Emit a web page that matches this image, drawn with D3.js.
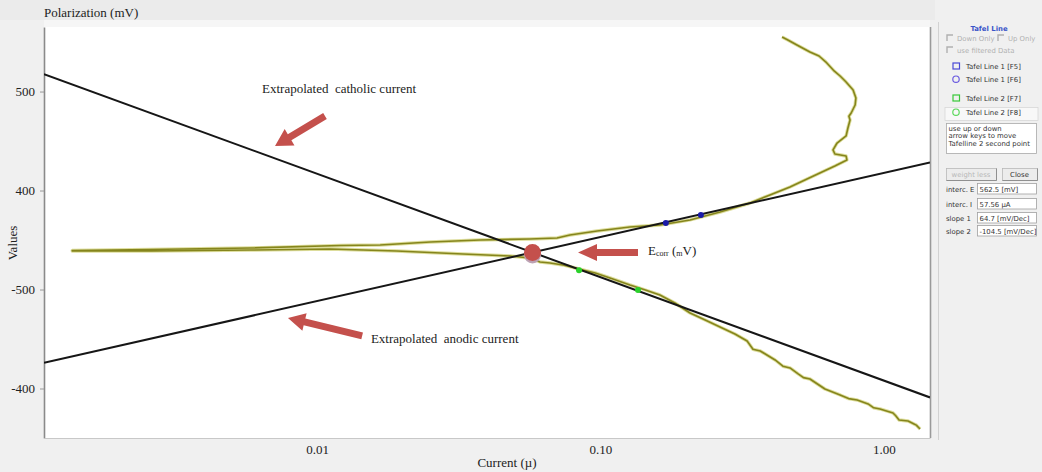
<!DOCTYPE html>
<html>
<head>
<meta charset="utf-8">
<script src="https://cdn.jsdelivr.net/npm/d3@7"></script>
<style>
  html, body { margin: 0; padding: 0; background: #f0f0f0; }
  svg { display: block; }
</style>
</head>
<body>
<svg id="chart" width="1042" height="472"></svg>
<script>
// ---- Polarization scan (current in mA, potential in mV) ----
// Cathodic branch, from the cathodic end of the scan towards the low-current tip
const cathodicCurrent = [1.34, 1.30, 1.276, 1.216, 1.13, 1.10, 1.076, 0.968, 0.92, 0.879, 0.804, 0.75, 0.700, 0.619,
  0.548, 0.52, 0.498, 0.466, 0.44, 0.413, 0.366, 0.345, 0.329, 0.298, 0.264, 0.234, 0.207,
  0.183, 0.162, 0.144, 0.127, 0.108, 0.0958, 0.0867, 0.0738, 0.0664, 0.0612,
  0.0564, 0.0480, 0.0327, 0.0191, 0.0111, 0.00581, 0.00258, 0.00137];
const cathodicPotential = [-740.9, -737.0, -735.8, -732.8, -731.8, -727.5, -724.7, -720.7, -719.5, -715.6, -711.6, -710.2, -706.5, -700.5,
  -690.4, -689.0, -685.3, -679.2, -677.5, -671.2, -662.1, -660.4, -652.0, -644.9, -637.8, -630.8, -623.7,
  -613.6, -605.5, -600.5, -595.4, -588.3, -583.3, -580.3, -575.2, -573.2, -572.2,
  -568.1, -566.1, -564.1, -561.1, -559.0, -560.1, -561.1, -561.1];
// Anodic branch, from the low-current tip out to the anodic end
const anodicCurrent = [0.00137, 0.00258, 0.00581, 0.0121, 0.0167, 0.0251, 0.0376, 0.0564, 0.0703, 0.0780,
  0.0973, 0.127, 0.162, 0.207, 0.264, 0.337, 0.396, 0.466, 0.526, 0.594,
  0.671, 0.740, 0.735, 0.671, 0.661, 0.683, 0.735, 0.746, 0.759, 0.752, 0.766,
  0.791, 0.796, 0.778, 0.735, 0.700, 0.667, 0.624, 0.590, 0.548, 0.493,
  0.458, 0.437];
const anodicPotential = [-560.6, -559.5, -558.0, -555.5, -555.0, -552.0, -550.0, -548.9, -547.9, -544.9,
  -540.9, -536.8, -534.8, -529.7, -521.7, -512.6, -504.5, -496.4, -489.3, -482.3,
  -475.2, -469.1, -465.1, -463.1, -459.0, -452.0, -444.9, -436.8, -428.7, -425.0, -421.7,
  -413.6, -406.5, -398.4, -390.4, -384.3, -379.2, -370.2, -364.1, -360.1, -353.0,
  -347.9, -344.9];

// ---- Tafel fit ----
const ecorr = -562.5;        // mV
const icorr = 0.05756;       // mA  (57.56 µA)
const slopeAnodic = 64.7;    // mV/decade
const slopeCathodic = -104.5;

// Points picked on each Tafel line
const tafel1Current = [0.170, 0.226];
const tafel1Potential = [-532.8, -524.7];
const tafel2Current = [0.084, 0.1356];
const tafel2Potential = [-580.5, -600.5];

// ---- Axes ----
const xTicks = [0.01, 0.1, 1];
const xTickLabels = ["0.01", "0.10", "1.00"];
const yTicks = [-400, -500, -600, -700];
const yTickLabels = ["500", "400", "-500", "-400"];

// ---- Layout ----
const plot = { left: 44, right: 930, top: 27, bottom: 438 };
const serif = "'Liberation Serif', 'Times New Roman', serif";
const sans = "'DejaVu Sans', 'Liberation Sans', sans-serif";
const arrowRed = "#c4504c";

const svg = d3.select("#chart");

const x = d3.scaleLog().domain([0.001089, 1.453]).range([plot.left, plot.right]);
const y = d3.scaleLinear().domain([-750, -334.8]).range([plot.bottom, plot.top]);

// backgrounds
svg.append("rect").attr("width", 1042).attr("height", 472).attr("fill", "#f0f0f0");
svg.append("rect").attr("x", 0).attr("y", 0).attr("width", 935).attr("height", 20).attr("fill", "#ebebeb");
svg.append("rect").attr("x", plot.left).attr("y", 20).attr("width", plot.right - plot.left).attr("height", 7).attr("fill", "#f6f6f6");
svg.append("rect")
  .attr("x", plot.left).attr("y", plot.top)
  .attr("width", plot.right - plot.left).attr("height", plot.bottom - plot.top)
  .attr("fill", "#ffffff");

// title
svg.append("text").attr("x", 44).attr("y", 17)
  .attr("font-family", serif).attr("font-size", 13).attr("fill", "#222")
  .text("Polarization (mV)");

// y axis
const yAxis = svg.append("g")
  .attr("transform", `translate(${plot.left},0)`)
  .call(d3.axisLeft(y).tickValues(yTicks).tickFormat((d, i) => yTickLabels[i])
    .tickSize(4).tickSizeOuter(0).tickPadding(5));
yAxis.select(".domain").attr("stroke", "#8a8a8a").attr("stroke-width", 1.6);
yAxis.selectAll(".tick line").attr("stroke", "#999");
yAxis.selectAll(".tick text").attr("font-family", serif).attr("font-size", 13).attr("fill", "#222");

svg.append("text")
  .attr("transform", "translate(17,243) rotate(-90)")
  .attr("text-anchor", "middle")
  .attr("font-family", serif).attr("font-size", 13).attr("fill", "#222")
  .text("Values");

// x axis
const xAxis = svg.append("g")
  .attr("transform", `translate(0,${plot.bottom})`)
  .call(d3.axisBottom(x).tickValues(xTicks).tickFormat((d, i) => xTickLabels[i])
    .tickSize(0).tickPadding(7));
xAxis.select(".domain").attr("stroke", "#c8c8c8").attr("stroke-width", 1.2);
xAxis.selectAll(".tick text").attr("font-family", serif).attr("font-size", 13).attr("fill", "#222");

svg.append("text").attr("x", 507).attr("y", 467)
  .attr("text-anchor", "middle")
  .attr("font-family", serif).attr("font-size", 13).attr("fill", "#222")
  .text("Current (\u00b5)");

// plot frame on the right
svg.append("line")
  .attr("x1", plot.right + 0.5).attr("x2", plot.right + 0.5)
  .attr("y1", plot.top).attr("y2", plot.bottom)
  .attr("stroke", "#9a9a9a").attr("stroke-width", 1.6);

svg.append("clipPath").attr("id", "plotClip")
  .append("rect").attr("x", plot.left).attr("y", plot.top)
  .attr("width", plot.right - plot.left).attr("height", plot.bottom - plot.top);

const g = svg.append("g").attr("clip-path", "url(#plotClip)");

// polarization curve
const scan = cathodicCurrent.map((c, i) => [c, cathodicPotential[i]])
  .concat(anodicCurrent.map((c, i) => [c, anodicPotential[i]]));
const line = d3.line().x(d => x(d[0])).y(d => y(d[1]));

g.append("path").datum(scan).attr("d", line)
  .attr("fill", "none").attr("stroke", "#cfcf72").attr("stroke-width", 3.4)
  .attr("stroke-linejoin", "round").attr("opacity", 0.7);
g.append("path").datum(scan).attr("d", line)
  .attr("fill", "none").attr("stroke", "#85851c").attr("stroke-width", 1.6)
  .attr("stroke-linejoin", "round");

// Tafel lines across the full current range
const [iMin, iMax] = x.domain();
const tafelLine = (b) => [iMin, iMax].map(i => [i, ecorr + b * Math.log10(i / icorr)]);
[slopeCathodic, slopeAnodic].forEach(b => {
  g.append("path").datum(tafelLine(b)).attr("d", line)
    .attr("fill", "none").attr("stroke", "#161616").attr("stroke-width", 2);
});

// Tafel points
g.selectAll(".t1").data(tafel1Current).join("circle")
  .attr("cx", d => x(d)).attr("cy", (d, i) => y(tafel1Potential[i]))
  .attr("r", 3).attr("fill", "#1a1aa8");
g.selectAll(".t2").data(tafel2Current).join("circle")
  .attr("cx", d => x(d)).attr("cy", (d, i) => y(tafel2Potential[i]))
  .attr("r", 3).attr("fill", "#2bd12b");

// Ecorr marker
g.append("circle").attr("cx", x(icorr)).attr("cy", y(ecorr) + 2.5).attr("r", 8.5).attr("fill", "#bca2b4");
g.append("circle").attr("cx", x(icorr)).attr("cy", y(ecorr)).attr("r", 8.5).attr("fill", arrowRed);

// ---- annotations (positions in current / potential units) ----
function arrow(from, to, shaftW, headW, headL) {
  const x1 = x(from[0]), y1 = y(from[1]), x2 = x(to[0]), y2 = y(to[1]);
  const dx = x2 - x1, dy = y2 - y1, len = Math.hypot(dx, dy);
  const ux = dx / len, uy = dy / len, px = -uy, py = ux;
  const bx = x2 - ux * headL, by = y2 - uy * headL;
  const pts = [
    [x1 + px * shaftW / 2, y1 + py * shaftW / 2],
    [bx + px * shaftW / 2, by + py * shaftW / 2],
    [bx + px * headW / 2, by + py * headW / 2],
    [x2, y2],
    [bx - px * headW / 2, by - py * headW / 2],
    [bx - px * shaftW / 2, by - py * shaftW / 2],
    [x1 - px * shaftW / 2, y1 - py * shaftW / 2]
  ];
  svg.append("polygon").attr("points", pts.map(p => p.join(",")).join(" ")).attr("fill", arrowRed);
}

arrow([0.01067, -424.7], [0.00711, -455.0], 7, 19, 17);
arrow([0.01443, -646.9], [0.00790, -628.7], 7, 18, 17);
arrow([0.1356, ecorr], [0.0833, ecorr], 7, 17, 19);

svg.append("text").attr("x", x(0.0064)).attr("y", y(-401.5))
  .attr("font-family", serif).attr("font-size", 13).attr("fill", "#222")
  .attr("xml:space", "preserve")
  .text("Extrapolated  catholic current");
svg.append("text").attr("x", x(0.01549)).attr("y", y(-654.0))
  .attr("font-family", serif).attr("font-size", 13).attr("fill", "#222")
  .attr("xml:space", "preserve")
  .text("Extrapolated  anodic current");

const eLabel = svg.append("text").attr("x", x(0.147)).attr("y", y(-565.1))
  .attr("font-family", serif).attr("font-size", 13).attr("fill", "#222");
eLabel.append("tspan").text("E");
eLabel.append("tspan").attr("font-size", 8).attr("dy", 1).text("corr");
eLabel.append("tspan").attr("dy", -1).text(" (");
eLabel.append("tspan").attr("font-size", 8).attr("dy", 1).text("m");
eLabel.append("tspan").attr("dy", -1).text("V)");

// ---- Tafel Line side panel ----
const panel = svg.append("g").attr("font-family", sans).attr("font-size", 6.9);
panel.append("rect").attr("x", 935).attr("y", 20).attr("width", 107).attr("height", 452).attr("fill", "#f0f0f0");
panel.append("line").attr("x1", 938.5).attr("x2", 938.5).attr("y1", 22).attr("y2", 440)
  .attr("stroke", "#d2d2d2").attr("stroke-width", 1);

panel.append("text").attr("x", 989).attr("y", 31).attr("text-anchor", "middle")
  .attr("font-weight", "bold").attr("fill", "#3a55c8").text("Tafel Line");

function checkbox(cx, cy) {
  panel.append("path").attr("d", `M${cx},${cy + 6}V${cy}H${cx + 6}`)
    .attr("fill", "none").attr("stroke", "#b0b0b0").attr("stroke-width", 1.4);
}
checkbox(947, 35);
panel.append("text").attr("x", 957).attr("y", 40.5).attr("fill", "#b0b0b0").text("Down Only");
checkbox(998, 35);
panel.append("text").attr("x", 1008).attr("y", 40.5).attr("fill", "#b0b0b0").text("Up Only");
checkbox(947, 47);
panel.append("text").attr("x", 957).attr("y", 52.5).attr("fill", "#b0b0b0").text("use filtered Data");

const legendRows = [
  { label: "Tafel Line 1 [F5]", color: "#4a4ad6", shape: "square", y: 69 },
  { label: "Tafel Line 1 [F6]", color: "#6a5ae0", shape: "ring", y: 82 },
  { label: "Tafel Line 2 [F7]", color: "#38c838", shape: "square", y: 101 },
  { label: "Tafel Line 2 [F8]", color: "#5ad85a", shape: "ring", y: 115 }
];
panel.append("rect").attr("x", 945).attr("y", 107.5).attr("width", 93).attr("height", 13)
  .attr("fill", "#f8f8f8").attr("stroke", "#d8d8d8").attr("stroke-width", 0.8);
legendRows.forEach(r => {
  if (r.shape === "square") {
    panel.append("rect").attr("x", 953).attr("y", r.y - 6).attr("width", 6.5).attr("height", 6)
      .attr("fill", "none").attr("stroke", r.color).attr("stroke-width", 1.2);
  } else {
    panel.append("circle").attr("cx", 956).attr("cy", r.y - 2.8).attr("r", 3.2)
      .attr("fill", "none").attr("stroke", r.color).attr("stroke-width", 1.2);
  }
  panel.append("text").attr("x", 966).attr("y", r.y).attr("fill", "#333").text(r.label);
});

// hint box
panel.append("rect").attr("x", 946.5).attr("y", 123.5).attr("width", 90).attr("height", 30)
  .attr("fill", "#ffffff").attr("stroke", "#a8a8a8").attr("stroke-width", 0.8);
["use up or down", "arrow keys to move", "Tafelline 2 second point"].forEach((t, i) => {
  panel.append("text").attr("x", 948.5).attr("y", 131 + i * 7.3).attr("fill", "#333").text(t);
});

// buttons
function button(bx, bw, label, color) {
  panel.append("rect").attr("x", bx + 0.5).attr("y", 168.5).attr("width", bw).attr("height", 12)
    .attr("fill", "#ececec").attr("stroke", "#b8b8b8").attr("stroke-width", 0.8);
  panel.append("line").attr("x1", bx + 0.5).attr("x2", bx + bw + 0.5).attr("y1", 180.5).attr("y2", 180.5)
    .attr("stroke", "#8a8a8a").attr("stroke-width", 0.9);
  panel.append("line").attr("x1", bx + bw + 0.5).attr("x2", bx + bw + 0.5).attr("y1", 168.5).attr("y2", 180.5)
    .attr("stroke", "#8a8a8a").attr("stroke-width", 0.9);
  panel.append("text").attr("x", bx + bw / 2).attr("y", 177).attr("text-anchor", "middle")
    .attr("fill", color).text(label);
}
button(946, 50, "weight less", "#b8b8b8");
button(1002, 35, "Close", "#333");

// fit results
const results = [
  { label: "interc. E", value: `${-ecorr} [mV]`, y: 189 },
  { label: "interc. I", value: `${(icorr * 1000).toFixed(2)} \u00b5A`, y: 204 },
  { label: "slope 1", value: `${slopeAnodic} [mV/Dec]`, y: 218 },
  { label: "slope 2", value: `${slopeCathodic} [mV/Dec]`, y: 231 }
];
results.forEach(r => {
  panel.append("text").attr("x", 946).attr("y", r.y + 2.5).attr("fill", "#333").text(r.label);
  panel.append("rect").attr("x", 977.5).attr("y", r.y - 5.5).attr("width", 59).attr("height", 10.5)
    .attr("fill", "#ffffff").attr("stroke", "#a0a0a0").attr("stroke-width", 0.8);
  panel.append("text").attr("x", 979.5).attr("y", r.y + 2.5).attr("fill", "#333").text(r.value);
});
</script>
</body>
</html>
